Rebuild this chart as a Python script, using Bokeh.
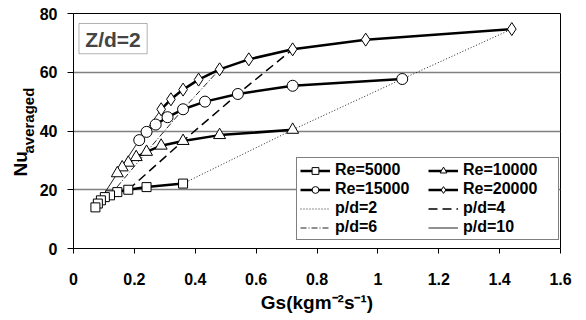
from bokeh.plotting import figure
from bokeh.models import Range1d, Label, Legend, LegendItem, FixedTicker, BoxAnnotation, Title
from bokeh.embed import file_html
from bokeh.resources import INLINE

# ---- data ----
pd_values = [2, 3, 4, 5, 6, 7, 8, 9, 10]
gs_re5000 = [0.36, 0.24, 0.18, 0.144, 0.12, 0.103, 0.09, 0.08, 0.072]
nu_re5000 = [22.1, 20.9, 20.0, 19.2, 18.1, 17.5, 16.4, 15.3, 14.0]
gs_re10000 = [0.72, 0.48, 0.36, 0.288, 0.24, 0.206, 0.18, 0.16, 0.144]
nu_re10000 = [40.4, 38.6, 36.6, 35.0, 32.9, 31.1, 29.2, 27.6, 25.6]
gs_re15000 = [1.08, 0.72, 0.54, 0.432, 0.36, 0.309, 0.27, 0.24, 0.216]
nu_re15000 = [57.7, 55.4, 52.6, 50.0, 47.4, 44.7, 42.2, 39.7, 36.9]
gs_re20000 = [1.44, 0.96, 0.72, 0.576, 0.48, 0.411, 0.36, 0.32, 0.288]
nu_re20000 = [74.7, 71.1, 67.8, 64.4, 61.0, 57.5, 54.1, 50.8, 47.4]
re_labels = ["Re=5000", "Re=10000", "Re=15000", "Re=20000"]
pd_lines = [2, 4, 6, 10]
pd_labels = ["p/d=2", "p/d=4", "p/d=6", "p/d=10"]
x_ticks = [0, 0.2, 0.4, 0.6, 0.8, 1.0, 1.2, 1.4, 1.6]
x_tick_labels = ["0", "0.2", "0.4", "0.6", "0.8", "1", "1.2", "1.4", "1.6"]
y_ticks = [0, 20, 40, 60, 80]

FONT = "Liberation Sans"

p = figure(width=586, height=320, output_backend="svg", toolbar_location=None,
           x_range=Range1d(0, 1.6), y_range=Range1d(0, 80),
           min_border_left=73, min_border_right=26, min_border_top=13, min_border_bottom=72)
p.background_fill_color = "white"
p.border_fill_color = "white"
p.outline_line_color = "black"
p.outline_line_width = 1

# axes
p.xaxis.ticker = FixedTicker(ticks=x_ticks)
p.xaxis.major_label_overrides = {t: l for t, l in zip(x_ticks, x_tick_labels)}
p.yaxis.ticker = FixedTicker(ticks=y_ticks)
for ax in (p.xaxis, p.yaxis):
    ax.major_label_text_font = FONT
    ax.major_label_text_font_style = "bold"
    ax.major_label_text_font_size = "16px"
    ax.major_label_text_color = "black"
    ax.axis_line_color = "black"
    ax.axis_line_width = 1
    ax.major_tick_line_color = "black"
    ax.major_tick_in = 0
    ax.minor_tick_line_color = None
p.xaxis.major_tick_out = 5
p.yaxis.major_tick_out = 6
p.xaxis.major_label_standoff = 19
p.yaxis.major_label_standoff = 10
p.xgrid.grid_line_color = None
p.ygrid.grid_line_color = "#808080"
p.ygrid.grid_line_width = 1.5

# x-axis title
p.xaxis.axis_label = "Gs(kgm\u207b\u00b2s\u207b\u00b9)"
p.xaxis.axis_label_text_font = FONT
p.xaxis.axis_label_text_font_style = "bold"
p.xaxis.axis_label_text_font_size = "19px"
p.xaxis.axis_label_text_color = "black"
p.xaxis.axis_label_standoff = 4

# p/d lines (connect equal p/d points across Re)
all_gs = [gs_re5000, gs_re10000, gs_re15000, gs_re20000]
all_nu = [nu_re5000, nu_re10000, nu_re15000, nu_re20000]
pd_styles = [dict(line_dash="1 2", line_width=1, line_color="#222222"),
             dict(line_dash="9 5", line_width=1.5, line_color="black"),
             dict(line_dash="6 2 1 2", line_width=1, line_color="#222222"),
             dict(line_dash="solid", line_width=1, line_color="#222222")]
pd_renderers = []
for pdv, st in zip(pd_lines, pd_styles):
    i = pd_values.index(pdv)
    xs = [g[i] for g in all_gs]
    ys = [n[i] for n in all_nu]
    pd_renderers.append(p.line(xs, ys, **st))

# Re series
markers = [("square", 9), ("triangle", 12), ("circle", 11), ("diamond", 13)]
re_items = []
for gs, nu, (mk, sz) in zip(all_gs, all_nu, markers):
    lr = p.line(gs, nu, line_color="black", line_width=2.5)
    sr = p.scatter(gs, nu, marker=mk, size=sz, fill_color="white",
                   line_color="black", line_width=1)
    re_items.append([lr, sr])

items = [
    LegendItem(label=re_labels[0], renderers=re_items[0]),
    LegendItem(label=re_labels[2], renderers=re_items[2]),
    LegendItem(label=pd_labels[0], renderers=[pd_renderers[0]]),
    LegendItem(label=pd_labels[2], renderers=[pd_renderers[2]]),
    LegendItem(label=re_labels[1], renderers=re_items[1]),
    LegendItem(label=re_labels[3], renderers=re_items[3]),
    LegendItem(label=pd_labels[1], renderers=[pd_renderers[1]]),
    LegendItem(label=pd_labels[3], renderers=[pd_renderers[3]]),
]
legend = Legend(items=items, ncols=2, location=(223, 8),
                label_text_font=FONT, label_text_font_style="bold",
                label_text_font_size="16px", label_text_color="black",
                glyph_width=30, glyph_height=17, label_height=17, label_width=92,
                label_standoff=5, spacing=1, padding=3, margin=0,
                border_line_color="black", border_line_width=1,
                background_fill_color="white", background_fill_alpha=1)
p.add_layout(legend)

# Z/d=2 box
p.add_layout(BoxAnnotation(left=0.018, right=0.242, bottom=66.3, top=76.6,
                           fill_color="white", fill_alpha=1,
                           line_color="black", line_width=1))
p.add_layout(Label(x=0.13, y=71.3, text="Z/d=2", text_align="center", text_baseline="middle",
                   text_font=FONT, text_font_style="bold", text_font_size="21px"))

# y-axis title: "Nu" with subscript "averaged", as side-panel titles
tstyle = dict(text_font=FONT, text_font_style="bold", text_color="black",
              align="left", vertical_align="bottom")
t_avg = Title(text="averaged", text_font_size="15px", offset=95, standoff=0, **tstyle)
p.add_layout(t_avg, "left")
try:
    t_nu = Title(text="Nu", text_font_size="19px", offset=72, standoff=-26, **tstyle)
except Exception:
    t_nu = Title(text="Nu", text_font_size="19px", offset=72, standoff=0, **tstyle)
p.add_layout(t_nu, "left")

open("out.html", "w").write(file_html(p, INLINE))
